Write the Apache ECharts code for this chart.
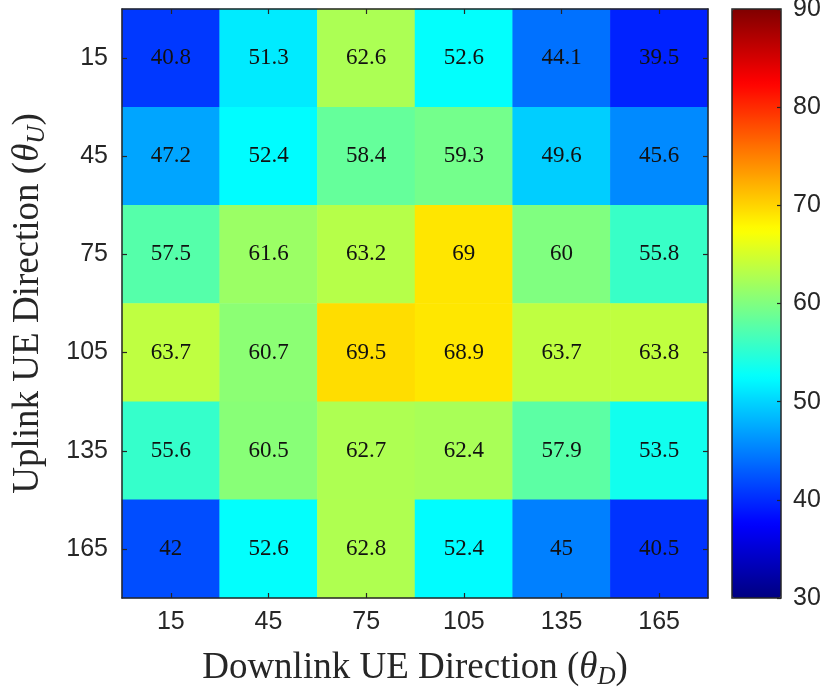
<!DOCTYPE html>
<html>
<head>
<meta charset="utf-8">
<script src="https://cdn.jsdelivr.net/npm/echarts@6/dist/echarts.min.js"></script>
<style>
  html, body { margin: 0; padding: 0; background: #fff; }
  #chart { width: 837px; height: 691px; }
</style>
</head>
<body>
<div id="chart"></div>
<script>
// downlink direction (columns) and uplink direction (rows)
var downlinkDirs = ['15', '45', '75', '105', '135', '165'];
var uplinkDirs = ['15', '45', '75', '105', '135', '165'];

// one row per uplink direction, left to right over downlink directions
var row15 = [40.8, 51.3, 62.6, 52.6, 44.1, 39.5];
var row45 = [47.2, 52.4, 58.4, 59.3, 49.6, 45.6];
var row75 = [57.5, 61.6, 63.2, 69, 60, 55.8];
var row105 = [63.7, 60.7, 69.5, 68.9, 63.7, 63.8];
var row135 = [55.6, 60.5, 62.7, 62.4, 57.9, 53.5];
var row165 = [42, 52.6, 62.8, 52.4, 45, 40.5];

// colorbar range and ticks
var cMin = 30, cMax = 90, cStep = 10;

// jet colormap stops
var jet = ['#000080', '#0000ff', '#0080ff', '#00ffff', '#80ff80',
           '#ffff00', '#ff8000', '#ff0000', '#800000'];

var rows = [row15, row45, row75, row105, row135, row165];
var cells = [];
for (var r = 0; r < rows.length; r++) {
    for (var c = 0; c < rows[r].length; c++) {
        cells.push([c, r, rows[r][c]]);
    }
}

var AX = '#262626';
var SANS = 'Liberation Sans';
var SERIF = 'Liberation Serif';

var nameRich = {
    it: { fontFamily: SERIF, fontStyle: 'italic', fontSize: 37, color: AX, lineHeight: 44 },
    sub: { fontFamily: SERIF, fontStyle: 'italic', fontSize: 25, color: AX, lineHeight: 24, verticalAlign: 'bottom' }
};

function catAxis(pos, data, showLabel, extra) {
    var a = {
        type: 'category',
        data: data,
        position: pos,
        gridIndex: 0,
        z: 10,
        axisLine: { show: true, onZero: false, lineStyle: { color: AX, width: 1.5 } },
        axisTick: { show: true, inside: true, length: 5, alignWithLabel: true, lineStyle: { color: AX, width: 1.2 } },
        axisLabel: { show: showLabel, fontFamily: SANS, fontSize: 25, color: AX, margin: 12 },
        splitLine: { show: false }
    };
    for (var k in extra) a[k] = extra[k];
    return a;
}

// colorbar value axis; labels on the right, ticks drawn by a second copy
function barAxis(pos, extra) {
    var a = {
        type: 'value',
        gridIndex: 1,
        position: pos,
        min: cMin,
        max: cMax,
        interval: cStep,
        z: 10,
        axisLine: { show: false },
        axisTick: { show: false },
        axisLabel: { show: false },
        splitLine: { show: false }
    };
    for (var k in extra) a[k] = extra[k];
    return a;
}

var chart = echarts.init(document.getElementById('chart'));
var option = {
    animation: false,
    backgroundColor: '#fff',
    grid: [
        { left: 122, right: 129, top: 9, bottom: 93, outerBoundsMode: 'none', containLabel: false },
        { left: 732, width: 49, top: 9, height: 589, show: true, z: 10, outerBoundsMode: 'none',
          backgroundColor: 'transparent', borderColor: AX, borderWidth: 1.5 }
    ],
    xAxis: [
        catAxis('bottom', downlinkDirs, true, {
            name: 'Downlink UE Direction ({it|θ}{sub|D})',
            nameLocation: 'middle',
            nameGap: 48,
            nameTextStyle: { fontFamily: SERIF, fontSize: 37, color: AX, lineHeight: 44, rich: nameRich }
        }),
        catAxis('top', downlinkDirs, false, {}),
        { type: 'value', gridIndex: 1, min: 0, max: 1, show: false }
    ],
    yAxis: [
        catAxis('left', uplinkDirs, true, {
            inverse: true,
            name: 'Uplink UE Direction ({it|θ}{sub|U})',
            nameLocation: 'middle',
            nameGap: 72,
            nameTextStyle: { fontFamily: SERIF, fontSize: 37, color: AX, lineHeight: 44, rich: nameRich },
            axisLabel: { show: true, fontFamily: SANS, fontSize: 25, color: AX, margin: 14 }
        }),
        catAxis('right', uplinkDirs, false, { inverse: true }),
        barAxis('right', {
            axisLabel: { show: true, fontFamily: SANS, fontSize: 25, color: AX, margin: 12 }
        }),
        barAxis('left', {
            offset: -49,
            axisTick: { show: true, inside: false, length: 4, lineStyle: { color: AX, width: 1.2 } }
        })
    ],
    visualMap: {
        type: 'continuous',
        min: cMin,
        max: cMax,
        seriesIndex: 0,
        calculable: false,
        hoverLink: false,
        orient: 'vertical',
        left: 732,
        top: 9,
        padding: 0,
        itemWidth: 49,
        itemHeight: 589,
        text: null,
        inRange: { color: jet }
    },
    series: [{
        type: 'heatmap',
        xAxisIndex: 0,
        yAxisIndex: 0,
        data: cells,
        label: {
            show: true,
            fontFamily: SERIF,
            fontSize: 23,
            color: '#111',
            formatter: function (p) { return String(p.value[2]); }
        },
        emphasis: { disabled: true }
    }]
};
chart.setOption(option);
</script>
</body>
</html>
